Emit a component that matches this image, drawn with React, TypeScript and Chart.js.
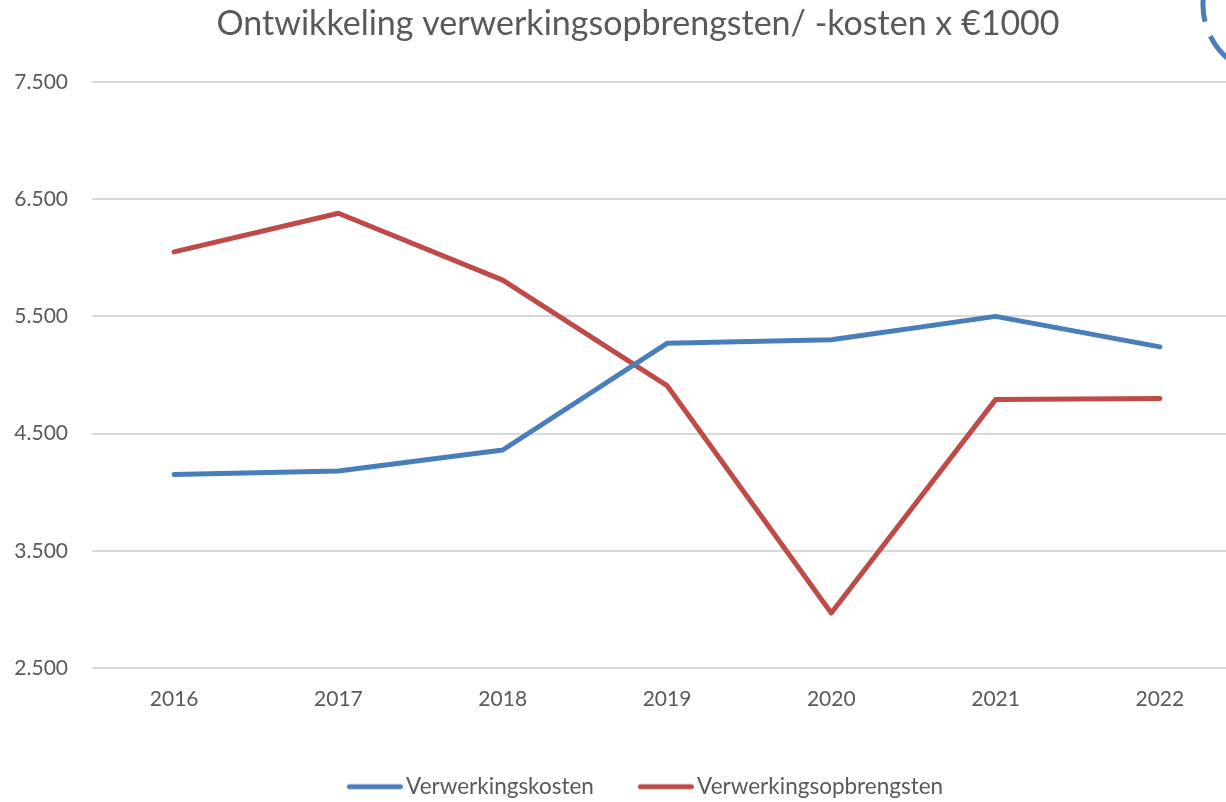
import React, { useEffect, useRef } from 'react';
import { Chart, registerables } from 'chart.js';

Chart.register(...registerables);

const categories = ['2016', '2017', '2018', '2019', '2020', '2021', '2022'];
const verwerkingskosten = [4150, 4180, 4360, 5270, 5300, 5500, 5240];
const verwerkingsopbrengsten = [6050, 6380, 5810, 4910, 2970, 4790, 4800];
const seriesNames = ['Verwerkingskosten', 'Verwerkingsopbrengsten'];
const seriesColors = ['#4a7ebb', '#be4b48'];
const yMin = 2500;
const yMax = 7500;
const yStep = 1000;
const titleText = 'Ontwikkeling verwerkingsopbrengsten/ -kosten x €1000';

const W = 1276;
const H = 808;
const FONT = 'Lato, "Open Sans", sans-serif';
const TEXT = '#595959';

function legendImage(color: string) {
  const c = document.createElement('canvas');
  c.width = 80;
  c.height = 12;
  const ctx = c.getContext('2d')!;
  ctx.strokeStyle = color;
  ctx.lineWidth = 5;
  ctx.lineCap = 'round';
  ctx.beginPath();
  ctx.moveTo(25.5, 6);
  ctx.lineTo(76.5, 6);
  ctx.stroke();
  return c;
}

const arcPlugin = {
  id: 'decoArc',
  afterDraw(chart: any) {
    const ctx = chart.ctx;
    ctx.save();
    ctx.strokeStyle = '#4a7ebb';
    ctx.lineWidth = 5;
    ctx.beginPath();
    ctx.arc(1273, 5, 70, 2.9, 3.4);
    ctx.stroke();
    ctx.beginPath();
    ctx.arc(1273, 5, 70, 2.0, 2.68);
    ctx.stroke();
    ctx.restore();
  },
};

export default function App() {
  const ref = useRef<HTMLCanvasElement>(null);
  useEffect(() => {
    const imgs = seriesColors.map(legendImage);
    const chart = new Chart(ref.current!, {
      type: 'line',
      data: {
        labels: categories,
        datasets: [
          {
            label: seriesNames[0],
            data: verwerkingskosten,
            borderColor: seriesColors[0],
            backgroundColor: seriesColors[0],
            borderWidth: 5,
            borderCapStyle: 'round',
            borderJoinStyle: 'round',
            pointRadius: 0,
            pointHoverRadius: 0,
            tension: 0,
            fill: false,
          },
          {
            label: seriesNames[1],
            data: verwerkingsopbrengsten,
            borderColor: seriesColors[1],
            backgroundColor: seriesColors[1],
            borderWidth: 5,
            borderCapStyle: 'round',
            borderJoinStyle: 'round',
            pointRadius: 0,
            pointHoverRadius: 0,
            tension: 0,
            fill: false,
          },
        ],
      },
      options: {
        animation: false,
        responsive: false,
        devicePixelRatio: 1,
        layout: { padding: 0 },
        plugins: {
          tooltip: { enabled: false },
          title: {
            display: true,
            text: titleText,
            color: TEXT,
            font: { family: FONT, size: 34, weight: 'normal' },
            padding: { top: 4, bottom: 37.2 },
          },
          legend: {
            position: 'bottom',
            labels: {
              usePointStyle: true,
              pointStyleWidth: 62,
              boxHeight: 22.5,
              padding: 30,
              color: TEXT,
              font: { family: FONT, size: 22.5 },
              generateLabels: (c: any) => {
                const items = (Chart.defaults.plugins.legend.labels as any).generateLabels(c);
                items.forEach((it: any, i: number) => {
                  it.pointStyle = imgs[i];
                });
                return items;
              },
            },
          },
        },
        scales: {
          x: {
            type: 'category',
            offset: true,
            grid: { display: false },
            border: { display: false },
            ticks: { color: TEXT, font: { family: FONT, size: 21 }, padding: 11, maxRotation: 0 },
            afterFit: (s: any) => {
              s.height = 77.5;
            },
          },
          y: {
            type: 'linear',
            min: yMin,
            max: yMax,
            grid: { color: '#d9d9d9', lineWidth: 2, drawTicks: false },
            border: { display: false },
            ticks: {
              stepSize: yStep,
              color: TEXT,
              font: { family: FONT, size: 21 },
              padding: 24,
              callback: (v: any) => String(v).replace(/\B(?=(\d{3})+(?!\d))/g, '.'),
            },
            afterFit: (s: any) => {
              s.width = 92;
            },
          },
          yRight: {
            type: 'linear',
            position: 'right',
            display: true,
            grid: { display: false, drawTicks: false },
            border: { display: false },
            ticks: { display: false },
            afterFit: (s: any) => {
              s.width = W - 1242;
            },
          },
        },
      } as any,
      plugins: [arcPlugin],
    });
    return () => chart.destroy();
  }, []);
  return (
    <div style={{ position: 'fixed', left: 0, top: 0, width: '100vw', height: '100vh', overflow: 'hidden', background: '#fff' }}>
      <canvas ref={ref} width={W} height={H} style={{ position: 'absolute', left: 0, top: 0, width: W, height: H }} />
    </div>
  );
}
